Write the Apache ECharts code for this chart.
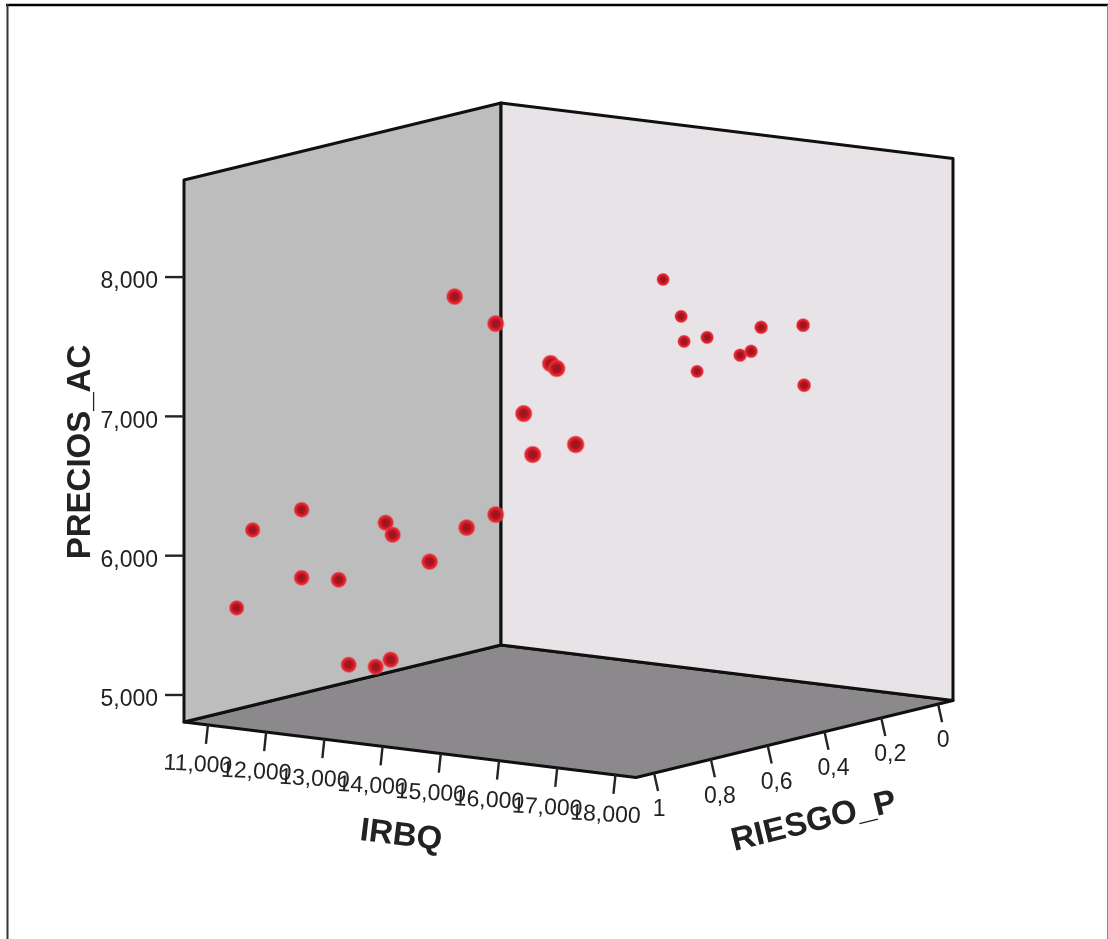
<!DOCTYPE html>
<html>
<head>
<meta charset="utf-8">
<style>html,body{margin:0;padding:0;background:#fff}#chart{width:1108px;height:939px;filter:blur(0.5px)}</style>
<script src="https://cdn.jsdelivr.net/npm/echarts@6/dist/echarts.min.js"></script>
</head>
<body>
<div id="chart"></div>
<script>
// --- data ---
const irbqTicks = [11000, 12000, 13000, 14000, 15000, 16000, 17000, 18000];
const riesgoTicks = [1, 0.8, 0.6, 0.4, 0.2, 0];
const riesgoTickLabels = ['1', '0,8', '0,6', '0,4', '0,2', '0'];
const preciosTicks = [5000, 6000, 7000, 8000];

const irbqValues = [11183, 11458, 12299, 12299, 12935, 13107, 13571, 13828, 13742, 13863, 14498, 14928, 15134, 15632, 15632, 16113, 16268, 16576, 16680, 17006,
  13629, 13939, 13990, 14385, 14213, 14952, 15141, 15313, 16034, 16051];
const riesgoValues = [1, 1, 1, 1, 1, 1, 1, 1, 1, 1, 1, 1, 1, 1, 1, 1, 1, 1, 1, 1,
  0, 0, 0, 0, 0, 0, 0, 0, 0, 0];
const preciosValues = [5624, 6198, 6386, 5898, 5916, 5315, 5324, 5388, 6367, 6287, 6126, 8051, 6403, 7893, 6522, 7272, 6986, 7655, 7625, 7096,
  7612, 7363, 7186, 7235, 6982, 7136, 7174, 7355, 7407, 6977];

// --- 3D box extents and oblique view ---
const irbqRange = [10589, 18353];
const riesgoRange = [1.0636, -0.0525];   // front → back
const preciosRange = [4806, 8697];
const view = { ox: 184, oy: 722, ix: 452, iy: 55.5, rx: 317, ry: -77, h: 542 };

function project(i, r, p) {
  const t = (i - irbqRange[0]) / (irbqRange[1] - irbqRange[0]);
  const u = (r - riesgoRange[0]) / (riesgoRange[1] - riesgoRange[0]);
  const v = (p - preciosRange[0]) / (preciosRange[1] - preciosRange[0]);
  return [view.ox + view.ix * t + view.rx * u, view.oy + view.iy * t + view.ry * u - view.h * v];
}
function dotSize(i, r) {
  const t = (i - irbqRange[0]) / (irbqRange[1] - irbqRange[0]);
  return 12.6 + 3.4 * t + 3.6 * r;
}

const LINE = '#101010';
const TICK = '#242424';
const TEXT = '#222222';
const tickFont = '23px "Liberation Sans", Arial, sans-serif';
const titleFont = 'bold 33px "Liberation Sans", Arial, sans-serif';

function renderFrame(params, api) {
  const [Imin, Imax] = irbqRange, [Rf, Rb] = riesgoRange, [Pmin, Pmax] = preciosRange;
  const P = (i, r, p) => api.coord(project(i, r, p));
  const a = P(Imin, Rf, Pmin), b = P(Imin, Rb, Pmin), c = P(Imax, Rb, Pmin), d = P(Imax, Rf, Pmin);
  const a2 = P(Imin, Rf, Pmax), b2 = P(Imin, Rb, Pmax), c2 = P(Imax, Rb, Pmax);
  const poly = (points, fill) => ({ type: 'polygon', shape: { points }, style: { fill, stroke: LINE, lineWidth: 3, lineJoin: 'round' } });
  const seg = (p, q, w, col) => ({ type: 'line', shape: { x1: p[0], y1: p[1], x2: q[0], y2: q[1] }, style: { stroke: col || TICK, lineWidth: w } });
  const txt = (s, p, font, align, rot) => ({
    type: 'text', x: p[0], y: p[1], rotation: rot || 0,
    style: { text: s, x: 0, y: 0, font, fill: TEXT, align: align || 'center', verticalAlign: 'middle' }
  });
  const kids = [
    poly([a, b, c, d], '#8b898c'),
    poly([a, a2, b2, b], '#bdbdbd'),
    poly([b, b2, c2, c], '#e7e3e7')
  ];
  irbqTicks.forEach(v => {
    const q = P(v, Rf, Pmin);
    kids.push(seg(q, [q[0] - 2, q[1] + 19], 2.4));
    kids.push(txt(v.toLocaleString('en-US'), [q[0] - 10, q[1] + 40], tickFont, 'center', -0.05));
  });
  riesgoTicks.forEach((v, k) => {
    const q = P(Imax, v, Pmin);
    const lab = riesgoTickLabels[k];
    kids.push(seg(q, [q[0] + 4, q[1] + 18], 2.4));
    kids.push(txt(lab, [q[0] + (lab.length > 1 ? 9 : 5), q[1] + 37], tickFont));
  });
  preciosTicks.forEach(v => {
    const q = P(Imin, Rf, v);
    kids.push(seg(q, [q[0] - 19, q[1]], 2.4));
    kids.push(txt(v.toLocaleString('en-US'), [q[0] - 26, q[1] + 5], tickFont, 'right'));
  });
  kids.push(txt('PRECIOS_AC', api.coord([80.5, 452]), titleFont, 'center', Math.PI / 2));
  kids.push(txt('IRBQ', api.coord([401, 836]), titleFont, 'center', -0.122));
  kids.push(txt('RIESGO_P', api.coord([814, 822]), titleFont, 'center', 0.24));
  // outer picture border
  kids.push(seg(api.coord([6, 5]), api.coord([1108, 5]), 2.4, '#000000'));
  kids.push(seg(api.coord([7.5, 4]), api.coord([7.5, 939]), 2, '#333333'));
  kids.push(seg(api.coord([1107.5, 5]), api.coord([1107.5, 939]), 1, '#8a8a8a'));
  return { type: 'group', children: kids };
}

const points = irbqValues.map((v, k) => {
  const xy = project(v, riesgoValues[k], preciosValues[k]);
  return { value: xy, symbolSize: dotSize(v, riesgoValues[k]) };
});

const chart = echarts.init(document.getElementById('chart'), null, { renderer: 'canvas' });
chart.setOption({
  backgroundColor: '#ffffff',
  animation: false,
  grid: { left: 0, right: 0, top: 0, bottom: 0 },
  xAxis: { type: 'value', min: 0, max: 1108, show: false },
  yAxis: { type: 'value', min: 0, max: 939, inverse: true, show: false },
  series: [
    { type: 'custom', silent: true, clip: false, renderItem: renderFrame, data: [[0, 0]], z: 1 },
    {
      type: 'scatter', z: 5, silent: true,
      data: points,
      itemStyle: {
        opacity: 1,
        color: {
          type: 'radial', x: 0.5, y: 0.5, r: 0.5,
          colorStops: [
            { offset: 0, color: '#961420' },
            { offset: 0.42, color: '#a81621' },
            { offset: 0.64, color: '#dc1f2b' },
            { offset: 0.8, color: '#e62a36' },
            { offset: 1, color: 'rgba(240,80,90,0)' }
          ]
        }
      }
    }
  ]
});
</script>
</body>
</html>
